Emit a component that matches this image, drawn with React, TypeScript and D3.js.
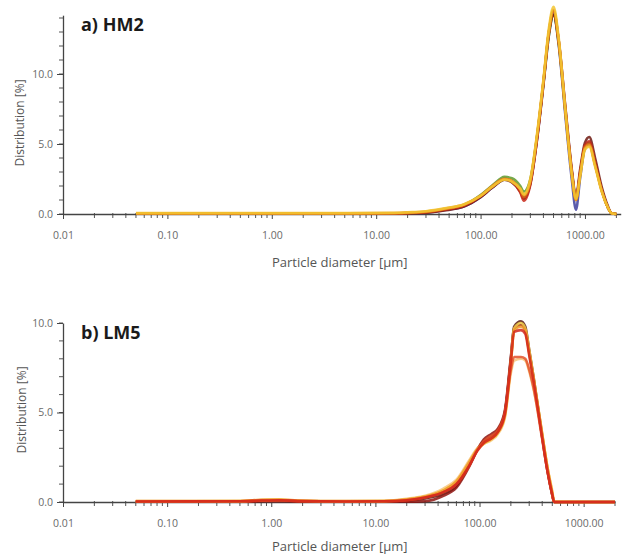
import React, { useRef, useEffect } from "react";
import * as d3 from "d3";

// particle size distributions
const diaA = [0.05, 0.5, 5, 15, 20, 30, 45, 70, 100, 130, 170, 200, 240, 260, 300, 350, 400, 450, 500, 560, 650, 750, 820, 900, 1000, 1100, 1250, 1450, 1650, 1800, 2000];

const hm2Blue = [0.02, 0.02, 0.02, 0.03, 0.05, 0.1, 0.28, 0.55, 1.2, 1.9, 2.45, 2.3, 1.7, 1.2, 2.2, 5.5, 9.2, 12.7, 14.3, 12.1, 7.0, 2.4, 0.3, 2.6, 4.7, 5.0, 3.6, 1.7, 0.5, 0.05, 0];
const hm2Green = [0.03, 0.03, 0.03, 0.04, 0.06, 0.13, 0.32, 0.65, 1.35, 2.05, 2.65, 2.55, 2.0, 1.6, 2.5, 5.7, 9.3, 12.7, 14.2, 12.2, 7.3, 2.9, 1.1, 2.9, 4.8, 5.1, 3.6, 1.7, 0.5, 0.05, 0];
const hm2DarkRed = [0.02, 0.02, 0.02, 0.03, 0.04, 0.1, 0.25, 0.55, 1.2, 1.9, 2.45, 2.25, 1.6, 1.1, 2.2, 5.6, 9.4, 12.9, 14.2, 12.4, 7.6, 3.1, 1.2, 3.2, 5.1, 5.5, 4.0, 1.9, 0.6, 0.05, 0];
const hm2Red = [0.03, 0.03, 0.03, 0.04, 0.06, 0.12, 0.3, 0.6, 1.25, 1.95, 2.5, 2.3, 1.55, 0.95, 2.1, 5.5, 9.3, 12.9, 14.5, 12.4, 7.5, 3.0, 1.1, 3.0, 4.9, 5.2, 3.7, 1.7, 0.5, 0.05, 0];
const hm2DarkOrange = [0.04, 0.04, 0.04, 0.05, 0.08, 0.15, 0.35, 0.65, 1.3, 2.0, 2.5, 2.35, 1.7, 1.2, 2.3, 5.7, 9.4, 12.9, 14.5, 12.3, 7.3, 2.9, 1.0, 2.9, 4.8, 5.0, 3.5, 1.7, 0.5, 0.05, 0];
const hm2Orange = [0.05, 0.05, 0.05, 0.07, 0.1, 0.18, 0.38, 0.7, 1.3, 2.0, 2.5, 2.35, 1.8, 1.35, 2.4, 5.8, 9.5, 13.0, 14.6, 12.4, 7.3, 2.8, 1.0, 2.8, 4.7, 4.9, 3.5, 1.6, 0.5, 0.05, 0];
const hm2Yellow = [0.06, 0.06, 0.06, 0.08, 0.12, 0.2, 0.4, 0.7, 1.3, 1.95, 2.45, 2.3, 1.8, 1.4, 2.5, 5.9, 9.6, 13.2, 14.8, 12.6, 7.4, 2.8, 1.1, 2.7, 4.6, 4.8, 3.4, 1.6, 0.5, 0.05, 0];

const diaB = [0.05, 0.5, 0.8, 1.2, 1.8, 5, 12, 20, 30, 45, 60, 80, 95, 110, 130, 150, 175, 200, 215, 250, 275, 300, 330, 400, 450, 500, 520, 2000];

const lm5Brown = [0.02, 0.03, 0.06, 0.08, 0.04, 0.02, 0.03, 0.08, 0.2, 0.45, 0.9, 2.1, 2.95, 3.4, 3.65, 4.0, 5.0, 8.0, 9.8, 10.1, 9.8, 8.5, 7.0, 3.7, 1.8, 0.4, 0, 0];
const lm5DarkRed = [0.02, 0.02, 0.04, 0.05, 0.03, 0.02, 0.02, 0.02, 0.05, 0.35, 0.8, 2.0, 2.9, 3.5, 3.8, 4.1, 5.1, 8.1, 9.7, 9.9, 9.6, 8.4, 6.9, 3.6, 1.7, 0.4, 0, 0];
const lm5Red = [0.03, 0.04, 0.08, 0.1, 0.05, 0.03, 0.04, 0.1, 0.25, 0.55, 1.0, 2.05, 2.85, 3.3, 3.55, 3.9, 4.9, 7.9, 9.5, 9.6, 9.4, 8.2, 6.8, 3.6, 1.7, 0.4, 0, 0];
const lm5RedOrange = [0.03, 0.04, 0.08, 0.1, 0.05, 0.03, 0.04, 0.1, 0.25, 0.55, 1.0, 2.05, 2.9, 3.4, 3.7, 4.0, 5.0, 7.4, 8.1, 8.1, 8.0, 7.4, 6.4, 3.5, 1.7, 0.4, 0, 0];
const lm5Orange = [0.05, 0.06, 0.12, 0.14, 0.08, 0.05, 0.06, 0.15, 0.3, 0.65, 1.15, 2.25, 2.95, 3.3, 3.55, 3.9, 4.8, 7.7, 9.6, 9.8, 9.6, 8.3, 6.9, 3.8, 1.9, 0.5, 0, 0];
const lm5LightOrange = [0.05, 0.06, 0.12, 0.14, 0.08, 0.05, 0.07, 0.18, 0.35, 0.75, 1.25, 2.35, 3.0, 3.25, 3.45, 3.8, 4.7, 7.2, 7.9, 8.0, 7.9, 7.3, 6.3, 3.7, 1.9, 0.6, 0.05, 0];
const lm5Yellow = [0.04, 0.05, 0.1, 0.12, 0.07, 0.04, 0.05, 0.14, 0.3, 0.65, 1.15, 2.2, 2.9, 3.25, 3.5, 3.85, 4.8, 7.8, 9.7, 10.0, 9.7, 8.5, 7.0, 3.8, 1.9, 0.5, 0, 0];

const majorX = [0.01, 0.1, 1, 10, 100, 1000];
const majorYA = [0, 5, 10];
const majorYB = [0, 5, 10];

const seriesA = [
  { values: hm2Blue, color: "#3f3f9c" },
  { values: hm2Green, color: "#5f9a2c" },
  { values: hm2DarkRed, color: "#6e1a12" },
  { values: hm2Red, color: "#c8281a" },
  { values: hm2DarkOrange, color: "#dc6414" },
  { values: hm2Orange, color: "#eb9a22" },
  { values: hm2Yellow, color: "#f2c531" },
];

const seriesB = [
  { values: lm5Brown, color: "#5a1a12" },
  { values: lm5DarkRed, color: "#8e1410" },
  { values: lm5LightOrange, color: "#f7c67c" },
  { values: lm5Yellow, color: "#f2d04a" },
  { values: lm5Orange, color: "#f09a2a" },
  { values: lm5RedOrange, color: "#e4522a" },
  { values: lm5Red, color: "#d3261a" },
];

const FONT = "'Open Sans', 'DejaVu Sans', sans-serif";

function drawPanel(svg, opts) {
  const { dia, series, title, yMax, yMajor, x0, x1, xMax, y0, y1, titleY, xLabelY, yLabelX, yLabelY } = opts;

  const x = d3.scaleLog().domain([0.01, xMax]).range([x0, x1]);
  const y = d3.scaleLinear().domain([0, yMax]).range([y0, y1]);

  const g = svg.append("g");

  // minor x ticks
  const minorX = x.ticks().filter((t) => !majorX.some((m) => Math.abs(m - t) / m < 1e-6));
  g.append("g")
    .selectAll("line")
    .data(minorX)
    .enter()
    .append("line")
    .attr("x1", (d) => x(d))
    .attr("x2", (d) => x(d))
    .attr("y1", y0 - 1)
    .attr("y2", y0 + 4)
    .attr("stroke", "#555")
    .attr("stroke-width", 1);

  // minor y ticks
  g.append("g")
    .selectAll("line")
    .data(d3.range(0, Math.floor(yMax) + 1))
    .enter()
    .append("line")
    .attr("x1", x0 - 4)
    .attr("x2", x0)
    .attr("y1", (d) => y(d))
    .attr("y2", (d) => y(d))
    .attr("stroke", "#555")
    .attr("stroke-width", 1);

  const xAxis = g
    .append("g")
    .attr("transform", `translate(0,${y0})`)
    .call(
      d3.axisBottom(x).tickValues(majorX).tickFormat(d3.format(".2f")).tickSize(5).tickSizeOuter(0).tickPadding(13)
    );
  const yAxis = g
    .append("g")
    .attr("transform", `translate(${x0},0)`)
    .call(d3.axisLeft(y).tickValues(yMajor).tickFormat(d3.format(".1f")).tickSize(6).tickSizeOuter(0).tickPadding(4));

  [xAxis, yAxis].forEach((a) => {
    a.select(".domain").attr("stroke", "#444").attr("stroke-width", 1.3);
    a.selectAll(".tick line").attr("stroke", "#444");
    a.selectAll(".tick text").attr("fill", "#6a6a6a").style("font-family", FONT).style("font-size", "10.5px");
  });

  const line = d3
    .line()
    .x((_, i) => x(dia[i]))
    .y((v) => y(v))
    .curve(d3.curveMonotoneX);

  g.append("g")
    .selectAll("path")
    .data(series)
    .enter()
    .append("path")
    .attr("d", (s) => line(s.values))
    .attr("fill", "none")
    .attr("stroke", (s) => s.color)
    .attr("stroke-width", 2.6)
    .attr("stroke-opacity", 0.85)
    .attr("stroke-linejoin", "round");

  g.append("text")
    .text(title)
    .attr("x", x0 + 18)
    .attr("y", titleY)
    .attr("fill", "#1a1a1a")
    .style("font-family", FONT)
    .style("font-weight", "bold")
    .style("font-size", "18px");

  g.append("text")
    .text("Particle diameter [\u00b5m]")
    .attr("x", 272)
    .attr("y", xLabelY)
    .attr("fill", "#555")
    .style("font-family", FONT)
    .style("font-size", "13px");

  g.append("text")
    .text("Distribution [%]")
    .attr("transform", `translate(${yLabelX},${yLabelY}) rotate(-90)`)
    .attr("text-anchor", "middle")
    .attr("fill", "#555")
    .style("font-family", FONT)
    .style("font-size", "12px");
}

const App = () => {
  const ref = useRef(null);
  const width = 624;
  const height = 555;

  useEffect(() => {
    const svg = d3.select(ref.current);
    svg.selectAll("*").remove();

    drawPanel(svg, {
      dia: diaA,
      series: seriesA,
      title: "a) HM2",
      yMax: 14.2,
      yMajor: majorYA,
      x0: 63,
      x1: 620.7,
      xMax: 2200,
      y0: 214,
      y1: 15.2,
      titleY: 31,
      xLabelY: 267,
      yLabelX: 24,
      yLabelY: 123,
    });

    drawPanel(svg, {
      dia: diaB,
      series: seriesB,
      title: "b) LM5",
      yMax: 10,
      yMajor: majorYB,
      x0: 63,
      x1: 615,
      xMax: 2000,
      y0: 502,
      y1: 323,
      titleY: 339,
      xLabelY: 551,
      yLabelX: 26,
      yLabelY: 410,
    });
  }, []);

  return (
    <svg
      ref={ref}
      width={width}
      height={height}
      style={{ position: "absolute", left: 0, top: 0, background: "#fff" }}
    ></svg>
  );
};

export default App;
